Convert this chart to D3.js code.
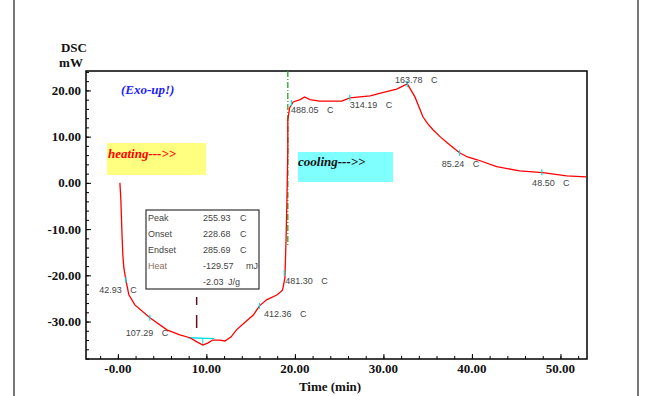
<!DOCTYPE html>
<html>
<head>
<meta charset="utf-8">
<script src="https://cdn.jsdelivr.net/npm/d3@7"></script>
<style>
  body { margin: 0; background: #fff; }
  svg { display: block; }
  .tick-label { font-family: "Liberation Serif", serif; font-weight: bold; font-size: 13px; fill: #111; }
  .note { font-family: "Liberation Sans", Arial, sans-serif; font-size: 9px; fill: #444; }
</style>
</head>
<body>
<svg id="chart" width="645" height="396"></svg>
<script>
// DSC curve (time min, mW)
var times = [0.23, 0.34, 0.45, 0.56, 0.68, 0.9, 1.24, 1.92, 3.62, 5.54, 7.0, 8.14, 8.93, 9.6, 10.2, 10.7, 11.5, 12.1, 12.8, 13.4, 14.4, 15.3, 16.0, 16.8, 18.0, 18.6, 18.87, 19.0, 19.1, 19.2, 19.2, 19.4, 19.8, 20.6, 21.1, 21.7, 22.8, 25.3, 26.2, 28.5, 29.9, 31.5, 32.7, 33.1, 33.56, 34.0, 34.46, 35.0, 35.6, 36.4, 37.2, 37.9, 38.6, 39.5, 40.6, 42.8, 45.4, 48.0, 50.7, 52.9];
var dsc = [0, -3.7, -10.2, -15.6, -18.4, -21.0, -24.2, -26.4, -29.2, -31.8, -32.9, -33.5, -34.4, -35.1, -34.6, -34.0, -34.0, -34.2, -33.3, -31.8, -30.1, -28.6, -26.6, -25.3, -24.2, -23.2, -20.6, -12.3, -3.7, 7.1, 13.6, 16.2, 17.5, 18.0, 18.6, 18.0, 17.7, 17.7, 18.4, 18.8, 19.5, 20.3, 21.4, 20.1, 18.6, 16.5, 14.3, 12.8, 11.5, 10.0, 8.7, 7.6, 6.5, 5.6, 5.0, 3.5, 2.6, 2.2, 1.5, 1.3];

// temperature annotations along the curve
var markTimes = [0.9, 3.62, 16.0, 18.8, 19.6, 26.2, 32.7, 38.6, 47.9];
var markValues = [-21.0, -29.2, -26.6, -19.5, 17.3, 18.4, 21.4, 6.5, 2.3];
var markLabels = ["42.93", "107.29", "412.36", "481.30", "488.05", "314.19", "163.78", "85.24", "48.50"];
var labelTimes = [-2.1, 0.9, 16.5, 18.9, 19.55, 26.2, 31.3, 36.6, 46.8];
var labelValues = [-23.8, -33.2, -29.1, -21.9, 15.2, 16.2, 21.6, 3.4, -0.7];

// peak result box
var infoNames = ["Peak", "Onset", "Endset", "Heat", ""];
var infoValues = ["255.93", "228.68", "285.69", "-129.57", "-2.03"];
var infoUnits = ["C", "C", "C", "mJ", "J/g"];

var xTicks = [0, 10, 20, 30, 40, 50];
var xTickLabels = ["-0.00", "10.00", "20.00", "30.00", "40.00", "50.00"];
var yTicks = [-30, -20, -10, 0, 10, 20];
var yTickLabels = ["-30.00", "-20.00", "-10.00", "0.00", "10.00", "20.00"];

var svg = d3.select("#chart");
var plotL = 86, plotR = 587, plotT = 71, plotB = 359;

var x = d3.scaleLinear().domain([-3.6, 53.0]).range([plotL, plotR]);
var y = d3.scaleLinear().domain([-38.1, 24.2]).range([plotB, plotT]);

// page borders
svg.append("line").attr("x1", 14).attr("x2", 14).attr("y1", 0).attr("y2", 396)
  .attr("stroke", "#777").attr("stroke-width", 2);
svg.append("line").attr("x1", 638).attr("x2", 638).attr("y1", 0).attr("y2", 396)
  .attr("stroke", "#777").attr("stroke-width", 2);

// frame
svg.append("rect").attr("x", plotL).attr("y", plotT)
  .attr("width", plotR - plotL).attr("height", plotB - plotT)
  .attr("fill", "none").attr("stroke", "#000").attr("stroke-width", 1.5);

// axes (ticks drawn inward)
var xMinor = d3.range(-2, 53, 2);
var yMinor = d3.range(-38, 25, 2);
svg.append("g").attr("transform", "translate(0," + plotB + ")")
  .call(d3.axisTop(x).tickValues(xMinor).tickSize(3).tickFormat(""))
  .call(function(g) { g.select(".domain").remove(); });
svg.append("g").attr("transform", "translate(0," + plotB + ")")
  .call(d3.axisTop(x).tickValues(xTicks).tickSize(5).tickFormat(""))
  .call(function(g) { g.select(".domain").remove(); });
svg.append("g").attr("transform", "translate(" + plotL + ",0)")
  .call(d3.axisRight(y).tickValues(yMinor).tickSize(3).tickFormat(""))
  .call(function(g) { g.select(".domain").remove(); });
svg.append("g").attr("transform", "translate(" + plotL + ",0)")
  .call(d3.axisRight(y).tickValues(yTicks).tickSize(5).tickFormat(""))
  .call(function(g) { g.select(".domain").remove(); });

svg.selectAll("text.xl").data(xTicks).enter().append("text")
  .attr("class", "tick-label")
  .attr("x", function(d) { return x(d); })
  .attr("y", 373)
  .attr("text-anchor", "middle")
  .text(function(d, i) { return xTickLabels[i]; });
svg.selectAll("text.yl").data(yTicks).enter().append("text")
  .attr("class", "tick-label")
  .attr("x", 81)
  .attr("y", function(d) { return y(d) + 4.5; })
  .attr("text-anchor", "end")
  .text(function(d, i) { return yTickLabels[i]; });

svg.append("text").attr("class", "tick-label").attr("x", 74).attr("y", 52)
  .attr("text-anchor", "middle").text("DSC");
svg.append("text").attr("class", "tick-label").attr("x", 71).attr("y", 67)
  .attr("text-anchor", "middle").text("mW");
svg.append("text").attr("class", "tick-label").attr("x", 330).attr("y", 391)
  .attr("text-anchor", "middle").text("Time (min)");

// heating / cooling tags
svg.append("rect").attr("x", 107).attr("y", 143).attr("width", 99).attr("height", 32)
  .attr("fill", "#ffff80");
svg.append("text").attr("x", 108).attr("y", 158)
  .attr("font-family", "Liberation Serif, serif").attr("font-style", "italic")
  .attr("font-weight", "bold").attr("font-size", 13).attr("fill", "#ff0000")
  .text("heating--->>");
svg.append("rect").attr("x", 298).attr("y", 152).attr("width", 95).attr("height", 30)
  .attr("fill", "#80ffff");
svg.append("text").attr("x", 298).attr("y", 166)
  .attr("font-family", "Liberation Serif, serif").attr("font-style", "italic")
  .attr("font-weight", "bold").attr("font-size", 13).attr("fill", "#111")
  .text("cooling--->>");
svg.append("text").attr("x", 121).attr("y", 94)
  .attr("font-family", "Liberation Serif, serif").attr("font-style", "italic")
  .attr("font-weight", "bold").attr("font-size", 13).attr("fill", "#2020ff")
  .text("(Exo-up!)");

// switch line heating -> cooling
svg.append("line")
  .attr("x1", x(19.2)).attr("x2", x(19.2))
  .attr("y1", plotT).attr("y2", y(-13.5))
  .attr("stroke", "#22aa22").attr("stroke-width", 1.3)
  .attr("stroke-dasharray", "6,2,1,2");

// integration baseline under the peak
svg.append("line")
  .attr("x1", x(7.9)).attr("x2", x(10.9))
  .attr("y1", y(-33.5)).attr("y2", y(-33.7))
  .attr("stroke", "#00e0e0").attr("stroke-width", 1.3);
svg.append("line")
  .attr("x1", x(9.6)).attr("x2", x(9.6))
  .attr("y1", y(-33.6)).attr("y2", y(-35.1))
  .attr("stroke", "#00e0e0").attr("stroke-width", 1);

// the curve
var pts = times.map(function(t, i) { return [t, dsc[i]]; });
svg.append("path")
  .datum(pts)
  .attr("fill", "none")
  .attr("stroke", "#ff0000")
  .attr("stroke-width", 1.3)
  .attr("d", d3.line().x(function(d) { return x(d[0]); }).y(function(d) { return y(d[1]); }));

// cyan markers
svg.selectAll("line.mark").data(markTimes).enter().append("line")
  .attr("class", "mark")
  .attr("x1", function(d) { return x(d); })
  .attr("x2", function(d) { return x(d); })
  .attr("y1", function(d, i) { return y(markValues[i]) - 3; })
  .attr("y2", function(d, i) { return y(markValues[i]) + 3; })
  .attr("stroke", "#00e0e0").attr("stroke-width", 1.2);

var notes = svg.selectAll("g.note").data(markLabels).enter().append("g")
  .attr("transform", function(d, i) { return "translate(" + x(labelTimes[i]) + "," + y(labelValues[i]) + ")"; });
notes.append("text").attr("class", "note").text(function(d) { return d; });
notes.append("text").attr("class", "note").attr("x", function(d) { return d.length * 5 + 6; }).text("C");

// peak position marker
svg.append("line")
  .attr("x1", x(8.9)).attr("x2", x(8.9))
  .attr("y1", y(-24.7)).attr("y2", y(-31.4))
  .attr("stroke", "#601020").attr("stroke-width", 1.5)
  .attr("stroke-dasharray", "8,10,13");

// result box
svg.append("rect").attr("x", 146).attr("y", 210).attr("width", 113).attr("height", 79)
  .attr("fill", "#fff").attr("stroke", "#333").attr("stroke-width", 1.2);
var rows = svg.selectAll("g.row").data(infoValues).enter().append("g")
  .attr("transform", function(d, i) { return "translate(0," + (221 + i * 16) + ")"; });
rows.append("text").attr("class", "note").attr("x", 148)
  .style("fill", function(d, i) { return i == 3 ? "#8a7060" : null; })
  .text(function(d, i) { return infoNames[i]; });
rows.append("text").attr("class", "note").attr("x", 203)
  .text(function(d) { return d; });
rows.append("text").attr("class", "note")
  .attr("x", function(d, i) { return i == 3 ? 246 : (i == 4 ? 228 : 240); })
  .text(function(d, i) { return infoUnits[i]; });
</script>
</body>
</html>
